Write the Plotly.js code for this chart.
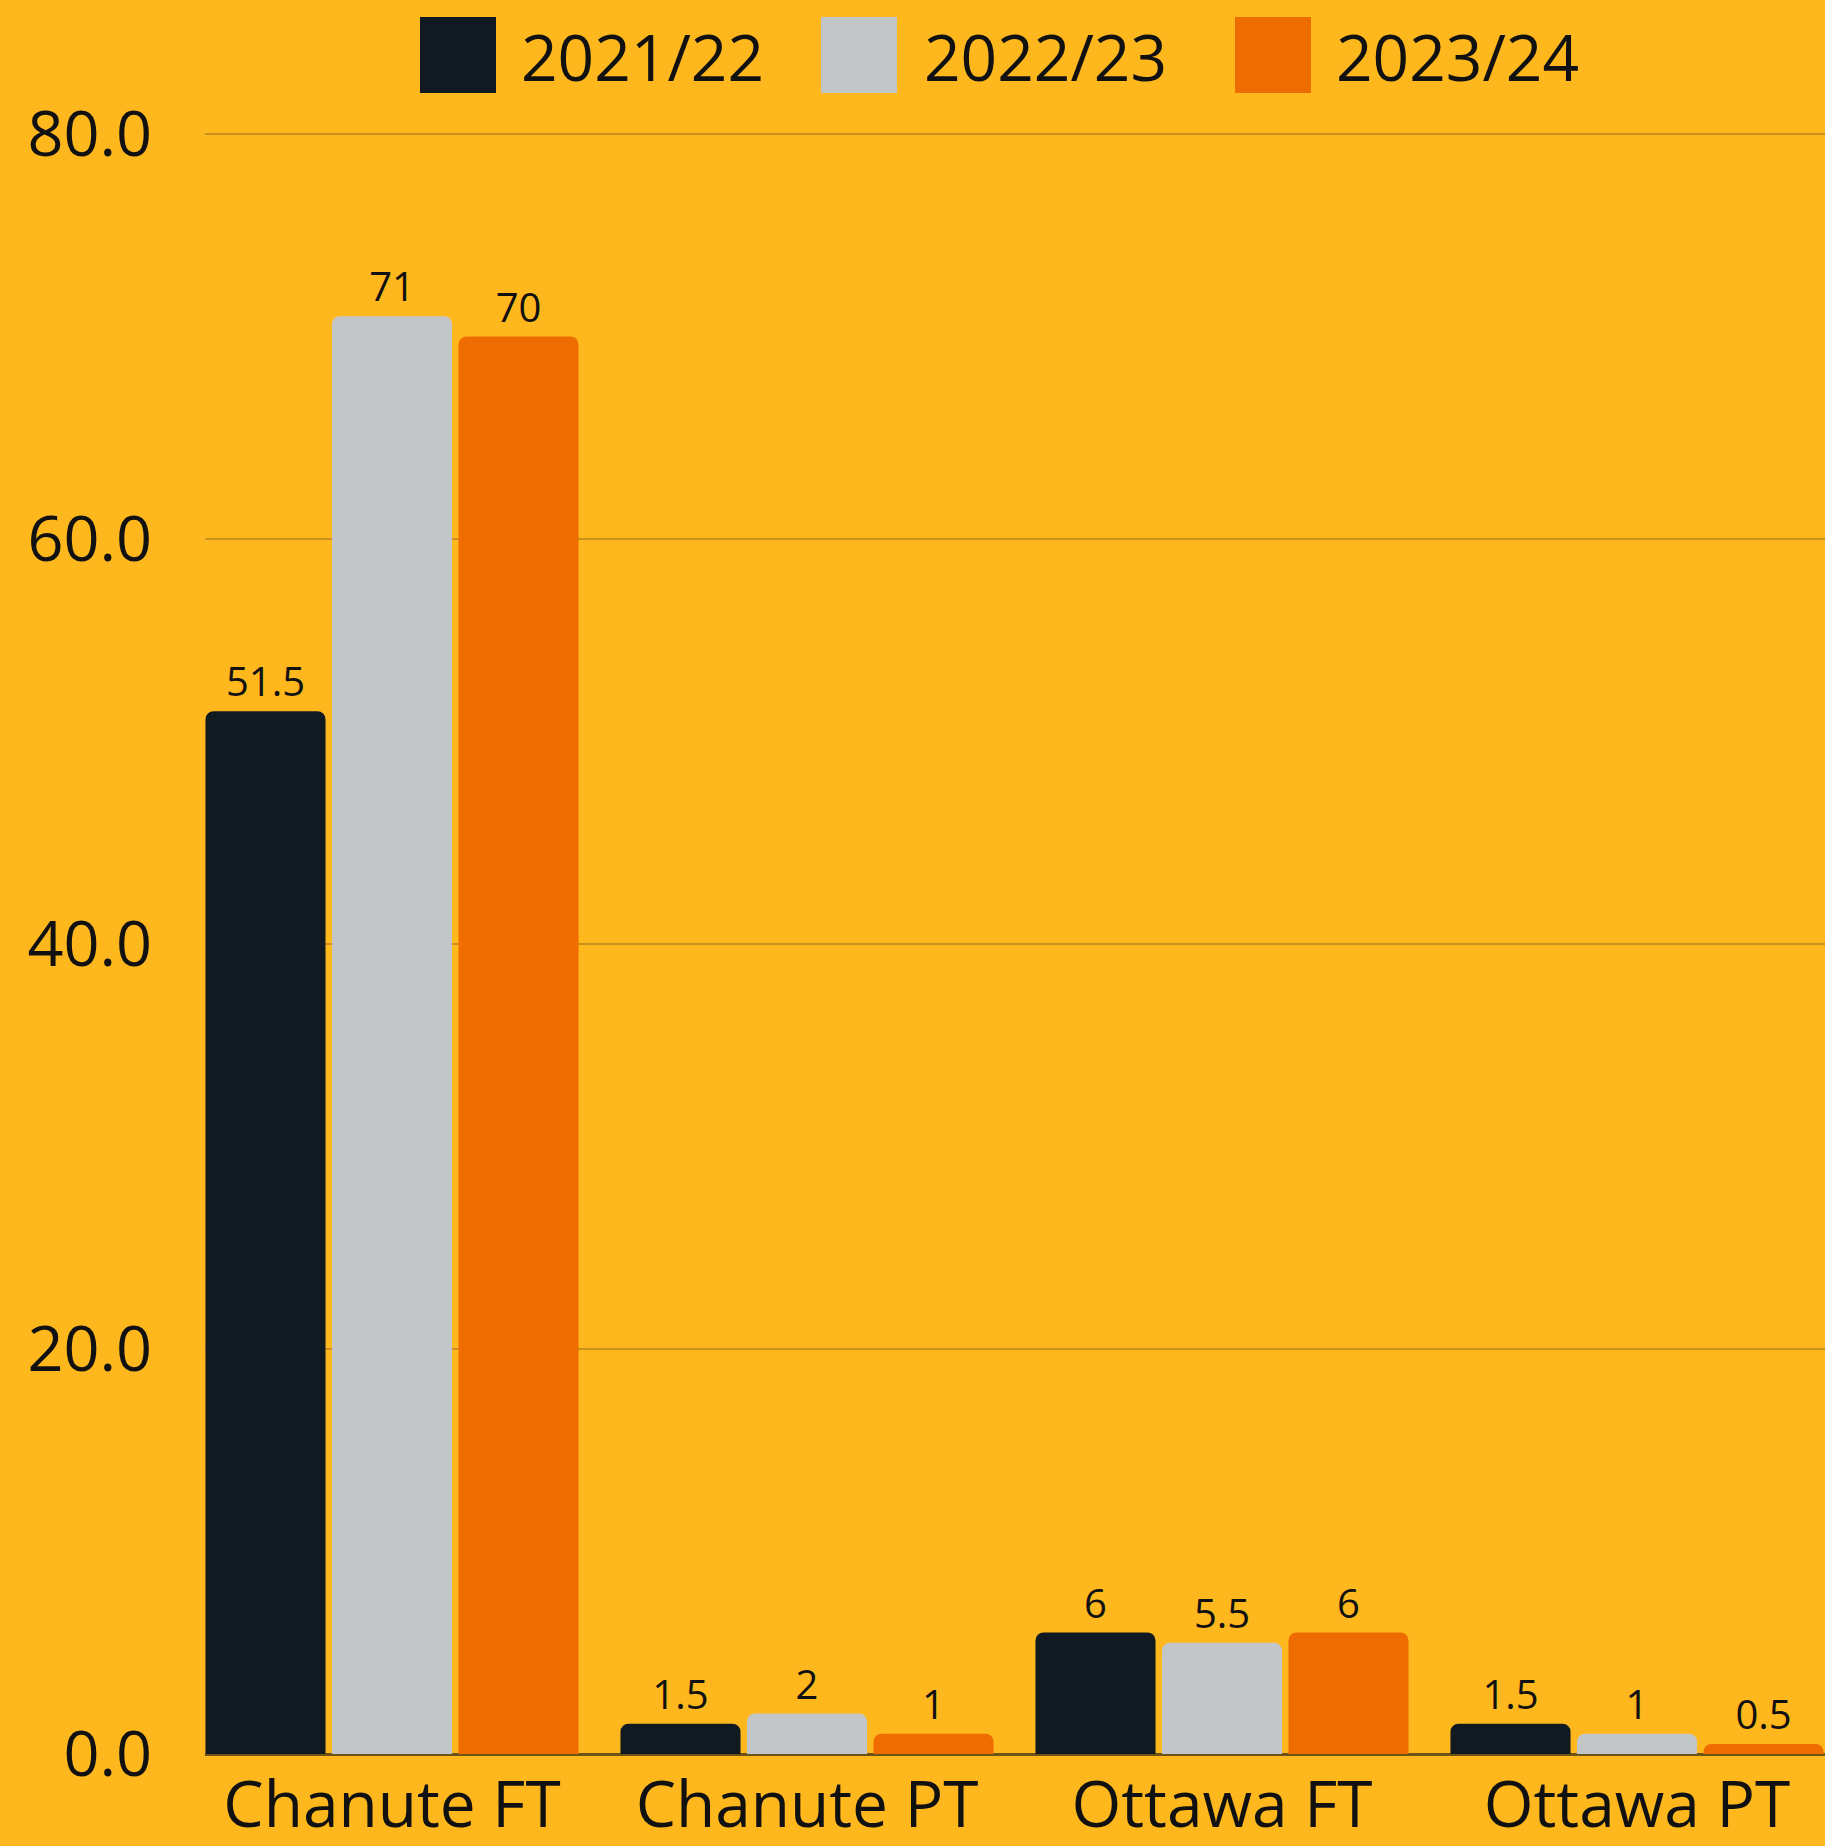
<!DOCTYPE html>
<html>
<head>
<meta charset="utf-8">
<script src="https://cdn.plot.ly/plotly-3.0.1.min.js"></script>
<style>html,body{margin:0;padding:0;background:#FEB81E;}#chart{width:1825px;height:1846px;}</style>
</head>
<body>
<div id="chart"></div>
<script>
const categories = ["Chanute FT", "Chanute PT", "Ottawa FT", "Ottawa PT"];
const seriesNames = ["2021/22", "2022/23", "2023/24"];
const values2021 = [51.5, 1.5, 6, 1.5];
const values2022 = [71, 2, 5.5, 1];
const values2023 = [70, 1, 6, 0.5];
const yTicks = [0, 20, 40, 60, 80];

const colors = ["#121A21", "#C2C6C8", "#EF6C00"];
const seriesValues = [values2021, values2022, values2023];
const FONT = "Open Sans, Roboto, sans-serif";

// plot area geometry (pixels)
const L = 205, R = 1825, T = 133, B = 1754;
const W = R - L, H = B - T;
const px = x => (x - L) / W;
const py = y => (B - y) / H;

const traces = seriesNames.map((name, i) => ({
  type: "bar",
  name: name,
  x: categories,
  y: seriesValues[i],
  marker: {color: colors[i], cornerradius: 8, line: {width: 0}},
  text: seriesValues[i].map(v => String(v)),
  textposition: "outside",
  cliponaxis: false,
  textfont: {family: FONT, size: 40, color: "#111111"},
  showlegend: false,
  hoverinfo: "x+y"
}));

const legendSwatchX = [420, 821, 1235];
const legendTextX = [519, 922, 1334];
const shapes = [];
const annotations = [];
seriesNames.forEach((name, i) => {
  shapes.push({
    type: "rect", xref: "paper", yref: "paper",
    x0: px(legendSwatchX[i]), x1: px(legendSwatchX[i] + 76),
    y0: py(93), y1: py(17),
    fillcolor: colors[i], line: {width: 0}, layer: "above"
  });
  annotations.push({
    xref: "paper", yref: "paper",
    x: px(legendTextX[i]), y: py(56),
    xanchor: "left", yanchor: "middle",
    text: name, showarrow: false,
    font: {family: FONT, size: 64, color: "#111111"}
  });
});

const layout = {
  width: 1825, height: 1846,
  paper_bgcolor: "#FEB81E",
  plot_bgcolor: "#FEB81E",
  margin: {l: L, r: 1825 - R, t: T, b: 1846 - B, pad: 0},
  barmode: "group",
  bargap: 0.0855,
  bargroupgap: 0.051,
  showlegend: false,
  font: {family: FONT, color: "#111111"},
  xaxis: {
    type: "category",
    range: [-0.4506, 3.453],
    showgrid: false,
    showline: false,
    zeroline: false,
    ticks: "",
    tickfont: {family: FONT, size: 64, color: "#111111"},
    ticklabelstandoff: 8,
    fixedrange: true
  },
  yaxis: {
    range: [0, 80.05],
    tickvals: yTicks,
    tickformat: ".1f",
    showgrid: true,
    gridcolor: "#C8921E",
    gridwidth: 2,
    zeroline: true,
    zerolinecolor: "#6B5416",
    zerolinewidth: 3,
    showline: false,
    ticks: "",
    tickfont: {family: FONT, size: 63, color: "#111111"},
    ticklabelstandoff: 52,
    fixedrange: true
  },
  shapes: shapes,
  annotations: annotations
};

Plotly.newPlot("chart", traces, layout, {displayModeBar: false, staticPlot: true});
</script>
</body>
</html>
